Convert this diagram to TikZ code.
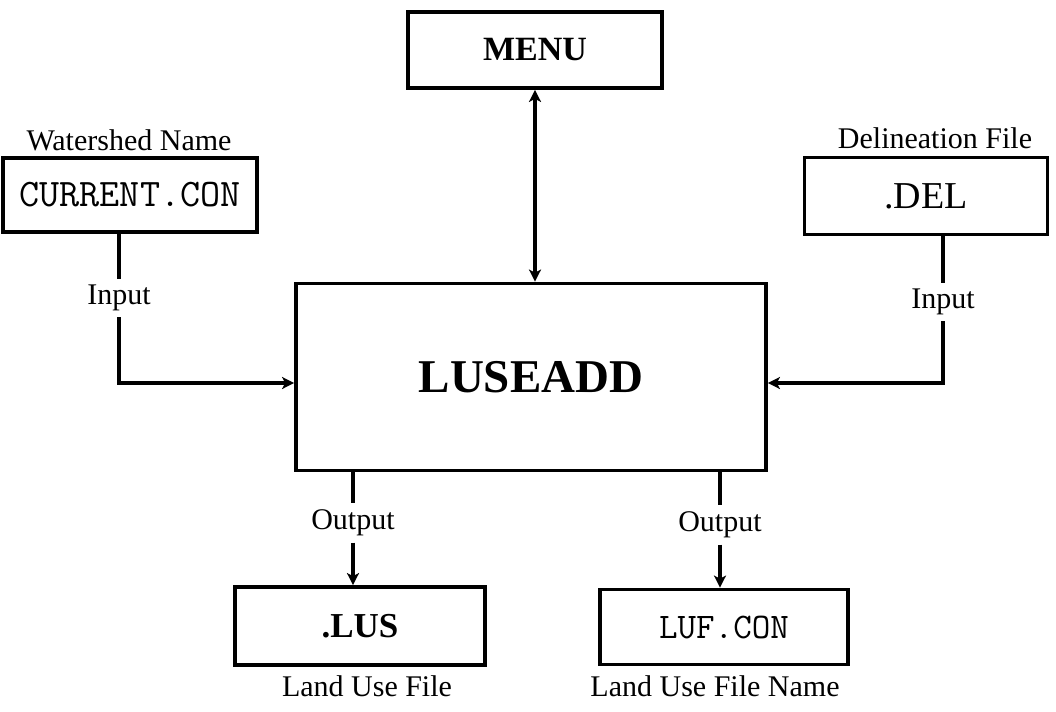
\documentclass[tikz,border=0pt]{standalone}
\usepackage{fontspec}
\setmainfont{Liberation Serif}
\setmonofont{Latin Modern Mono}
\usetikzlibrary{arrows.meta}
\begin{document}
\begin{tikzpicture}[x=0.5pt,y=-0.5pt,
  box/.style={draw,line width=1.9pt,inner sep=0pt,minimum width=#1},
  filecaption/.style={inner sep=0pt,font=\fontsize{15}{17}\selectfont},
  flowlabel/.style={inner sep=3pt,font=\fontsize{15}{17}\selectfont},
  wire/.style={line width=1.8pt},
  tip/.style={Stealth[length=6pt,width=6pt,inset=1.5pt]},
  arr/.style={wire,-{Stealth[length=6pt,width=6pt,inset=1.5pt]}},
  darr/.style={wire,{Stealth[length=6pt,width=6pt,inset=1.5pt]}-{Stealth[length=6pt,width=6pt,inset=1.5pt]}}]
\useasboundingbox (0,0) rectangle (1056,712);

% program and its files
\node[box=127pt,minimum height=38pt,font=\bfseries\fontsize{17}{19}\selectfont] (menu) at (535,50) {MENU};
\node[box=235pt,minimum height=93.5pt,font=\bfseries\fontsize{23.5}{26}\selectfont] (luse) at (531,377) {LUSEADD};
\node[box=127pt,minimum height=37pt,font=\ttfamily\fontsize{19.5}{21}\selectfont] (cur) at (130,195) {CURRENT.CON};
\node[box=121.5pt,minimum height=38.5pt,font=\fontsize{19}{21}\selectfont] (del) at (926,196) {.DEL};
\node[box=125pt,minimum height=39pt,font=\bfseries\fontsize{17.5}{19}\selectfont] (lus) at (360,626) {.LUS};
\node[box=124pt,minimum height=37.5pt,font=\ttfamily\fontsize{18}{20}\selectfont] (luf) at (724,627) {LUF.CON};

% captions
\node[filecaption] (capcur) at (129,140) {Watershed Name};
\node[filecaption] (capdel) at (935,138) {Delineation File};
\node[filecaption] (caplus) at (367,686) {Land Use File};
\node[filecaption] (capluf) at (715,686) {Land Use File Name};

% connector labels
\node[flowlabel] (inL) at (119,298) {Input};
\node[flowlabel] (inR) at (943,302) {Input};
\node[flowlabel] (outL) at (353,523) {Output};
\node[flowlabel] (outR) at (720,525) {Output};

% connectors
\draw[darr] (menu.south) -- (menu.south |- luse.north);
\draw[wire] (inL |- cur.south) -- (inL.north);
\draw[arr] (inL.south) |- ([yshift=-3pt]luse.west);
\draw[wire] (inR |- del.south) -- (inR.north);
\draw[arr] (inR.south) |- ([yshift=-3pt]luse.east);
\draw[wire] (outL |- luse.south) -- (outL.north);
\draw[arr] (outL.south) -- (outL |- lus.north);
\draw[wire] (outR |- luse.south) -- (outR.north);
\draw[arr] (outR.south) -- (outR |- luf.north);
\end{tikzpicture}
\end{document}
